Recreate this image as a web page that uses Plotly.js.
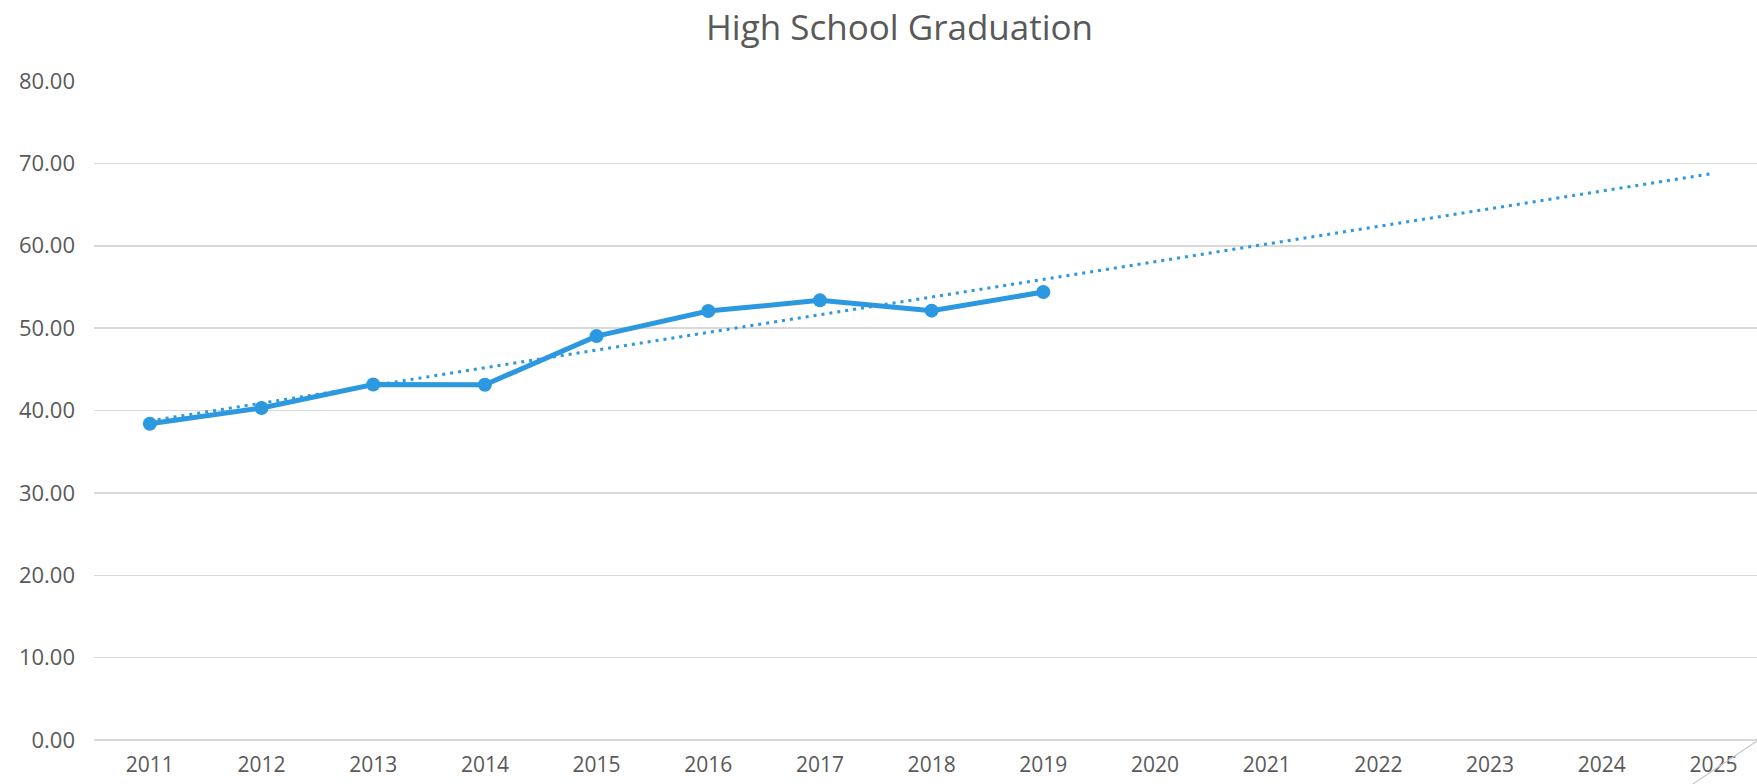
<!DOCTYPE html>
<html>
<head>
<meta charset="utf-8">
<script src="https://cdn.plot.ly/plotly-3.0.1.min.js"></script>
<style>
html,body{margin:0;padding:0;background:#fff;overflow:hidden;}
#chart{width:1757px;height:784px;}
</style>
</head>
<body>
<div id="chart"></div>
<script>
// Data
const years = [2011, 2012, 2013, 2014, 2015, 2016, 2017, 2018, 2019, 2020, 2021, 2022, 2023, 2024, 2025];
const dataYears = [2011, 2012, 2013, 2014, 2015, 2016, 2017, 2018, 2019];
const graduation = [38.40, 40.30, 43.15, 43.13, 49.03, 52.07, 53.37, 52.12, 54.38];
const yTicks = [0, 10, 20, 30, 40, 50, 60, 70, 80];

// Linear trendline (least squares) fitted to the series, forecast through last year
const n = graduation.length;
const idx = dataYears.map((_, i) => i);
const mx = idx.reduce((a, b) => a + b, 0) / n;
const my = graduation.reduce((a, b) => a + b, 0) / n;
let sxy = 0, sxx = 0;
for (let i = 0; i < n; i++) { sxy += (idx[i] - mx) * (graduation[i] - my); sxx += (idx[i] - mx) ** 2; }
const slope = sxy / sxx;
const intercept = my - slope * mx;
const trendX = [years[0], years[years.length - 1]];
const trendY = [intercept, intercept + slope * (years.length - 1)];

const blue = '#2C98E0';
const font = '"Open Sans", "Noto Sans", sans-serif';

const traces = [
  {
    x: trendX, y: trendY, type: 'scatter', mode: 'lines',
    line: {color: blue, width: 3, dash: '3px,5px'},
    hoverinfo: 'skip', showlegend: false
  },
  {
    x: dataYears, y: graduation, type: 'scatter', mode: 'lines+markers',
    line: {color: blue, width: 5},
    marker: {color: blue, size: 14},
    showlegend: false
  }
];

const layout = {
  width: 1757, height: 784,
  margin: {l: 94, r: 0, t: 81, b: 44, pad: 0},
  paper_bgcolor: '#ffffff', plot_bgcolor: '#ffffff',
  title: {
    text: 'High School Graduation',
    font: {family: font, size: 35, color: '#595959'},
    x: 0.512, xref: 'container', xanchor: 'center',
    y: 0.965, yref: 'container', yanchor: 'middle'
  },
  xaxis: {
    range: [2010.5, 2025.39],
    tickvals: years, ticktext: years.map(String),
    showgrid: false, zeroline: false, showline: false,
    ticks: '', ticklabelstandoff: 10,
    tickfont: {family: font, size: 21, color: '#595959'},
    fixedrange: true
  },
  yaxis: {
    range: [0, 80],
    tickvals: yTicks, ticktext: yTicks.map(v => v.toFixed(2)),
    showgrid: true, gridcolor: '#d9d9d9', gridwidth: 1.5,
    zeroline: true, zerolinecolor: '#d9d9d9', zerolinewidth: 1.5,
    showline: false, ticks: '', ticklabelstandoff: 18,
    tickfont: {family: font, size: 22, color: '#595959'},
    fixedrange: true
  },
  shapes: [
    {type: 'line', xref: 'paper', yref: 'paper',
     x0: 1, y0: -1 / 659, x1: (1693 - 94) / (1757 - 94), y1: -44 / 659,
     line: {color: '#c8c8c8', width: 1.2}}
  ]
};

Plotly.newPlot('chart', traces, layout, {displayModeBar: false, staticPlot: true});
</script>
</body>
</html>
